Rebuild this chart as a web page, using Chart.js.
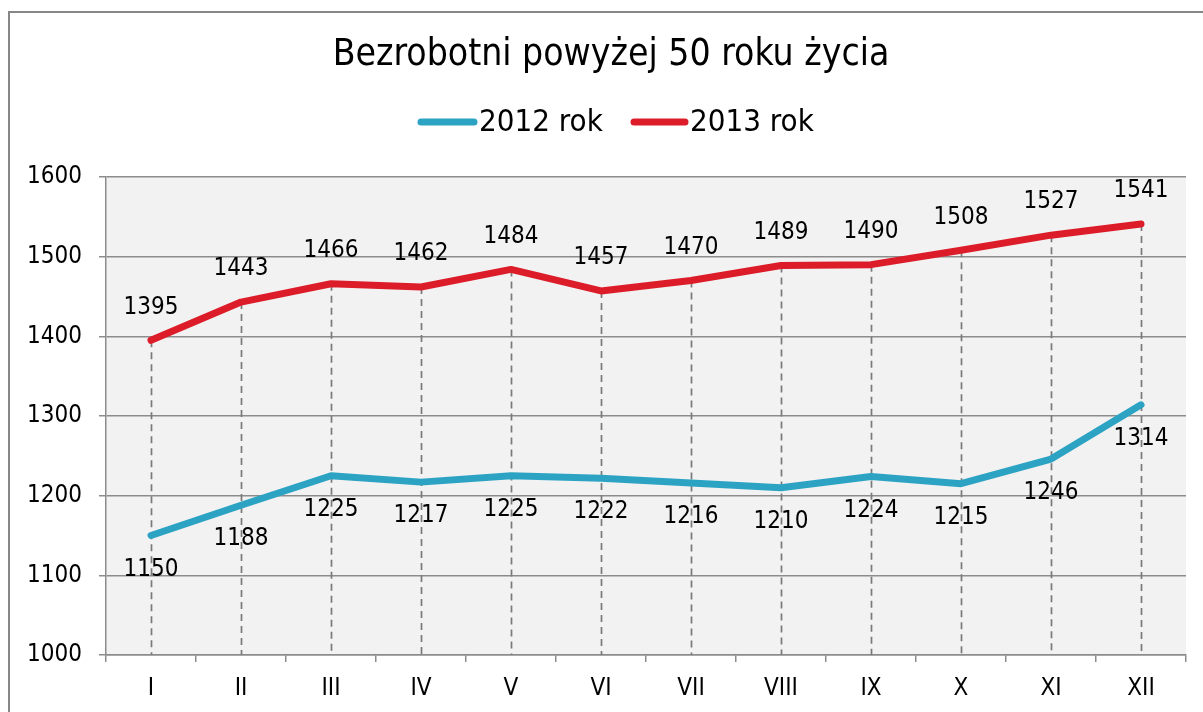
<!DOCTYPE html>
<html>
<head>
<meta charset="utf-8">
<script src="https://cdn.jsdelivr.net/npm/chart.js@4.4.1/dist/chart.umd.min.js"></script>
<style>
  html, body { margin: 0; padding: 0; background: #fff; }
  #wrap { width: 1203px; height: 712px; position: relative; }
</style>
</head>
<body>
<div id="wrap"><canvas id="chart"></canvas></div>
<script>
// dane
const months = ['I', 'II', 'III', 'IV', 'V', 'VI', 'VII', 'VIII', 'IX', 'X', 'XI', 'XII'];
const rok2012 = [1150, 1188, 1225, 1217, 1225, 1222, 1216, 1210, 1224, 1215, 1246, 1314];
const rok2013 = [1395, 1443, 1466, 1462, 1484, 1457, 1470, 1489, 1490, 1508, 1527, 1541];
const yMin = 1000, yMax = 1600, yStep = 100;
const chartTitle = 'Bezrobotni powyżej 50 roku życia';
const seriesNames = ['2012 rok', '2013 rok'];

const FONT = '"DejaVu Sans Condensed", "DejaVu Sans", sans-serif';
const TEAL = '#2DA3C4';
const RED = '#DD1C29';
const GRID = '#8C8C8C';

// tlo, ramka, szare pole wykresu
const backgroundPlugin = {
  id: 'bg',
  beforeDraw(chart) {
    const ctx = chart.ctx, a = chart.chartArea;
    ctx.save();
    ctx.fillStyle = '#fff';
    ctx.fillRect(0, 0, chart.width, chart.height);
    ctx.strokeStyle = '#878787';
    ctx.lineWidth = 2;
    ctx.strokeRect(9, 12, chart.width + 20, chart.height + 20);
    ctx.fillStyle = '#F2F2F2';
    ctx.fillRect(a.left, a.top, a.right - a.left, a.bottom - a.top);
    ctx.restore();
  }
};

// linie spadku od wyzszej serii do osi
const dropLinesPlugin = {
  id: 'dropLines',
  beforeDatasetsDraw(chart) {
    const ctx = chart.ctx, x = chart.scales.x, y = chart.scales.y;
    ctx.save();
    ctx.strokeStyle = '#7A7A7A';
    ctx.lineWidth = 1.7;
    ctx.setLineDash([7, 5]);
    months.forEach((m, i) => {
      const top = Math.max(rok2012[i], rok2013[i]);
      const px = Math.round(x.getPixelForValue(i)) + 0.5;
      ctx.beginPath();
      ctx.moveTo(px, y.getPixelForValue(top));
      ctx.lineTo(px, chart.chartArea.bottom);
      ctx.stroke();
    });
    ctx.restore();
  }
};

// etykiety danych
const valueLabelsPlugin = {
  id: 'valueLabels',
  afterDatasetsDraw(chart) {
    const ctx = chart.ctx, x = chart.scales.x, y = chart.scales.y;
    ctx.save();
    ctx.font = '24px ' + FONT;
    ctx.fillStyle = '#000';
    ctx.textAlign = 'center';
    ctx.textBaseline = 'middle';
    months.forEach((m, i) => {
      const px = x.getPixelForValue(i);
      ctx.fillText(String(rok2013[i]), px, y.getPixelForValue(rok2013[i]) - 33);
      ctx.fillText(String(rok2012[i]), px, y.getPixelForValue(rok2012[i]) + 34);
    });
    ctx.restore();
  }
};

// tytul i legenda
const headerPlugin = {
  id: 'header',
  afterDraw(chart) {
    const ctx = chart.ctx;
    ctx.save();
    ctx.fillStyle = '#000';
    ctx.textBaseline = 'middle';
    ctx.textAlign = 'center';
    ctx.font = '37px ' + FONT;
    ctx.fillText(chartTitle, 611, 55);

    ctx.font = '31px ' + FONT;
    ctx.textAlign = 'left';
    ctx.lineCap = 'round';
    ctx.lineWidth = 7;
    [[TEAL, 421, 474, 479], [RED, 634, 685, 690]].forEach((l, k) => {
      ctx.strokeStyle = l[0];
      ctx.beginPath();
      ctx.moveTo(l[1], 122);
      ctx.lineTo(l[2], 122);
      ctx.stroke();
      ctx.fillText(seriesNames[k], l[3], 123);
    });
    ctx.restore();
  }
};

new Chart(document.getElementById('chart'), {
  type: 'line',
  data: {
    labels: months,
    datasets: [
      { label: seriesNames[0], data: rok2012, borderColor: TEAL, backgroundColor: TEAL },
      { label: seriesNames[1], data: rok2013, borderColor: RED, backgroundColor: RED }
    ]
  },
  options: {
    responsive: true,
    maintainAspectRatio: false,
    animation: false,
    events: [],
    layout: { padding: { top: 177, left: 0, right: 17, bottom: 0 } },
    elements: {
      line: { borderWidth: 7, tension: 0, borderCapStyle: 'round', borderJoinStyle: 'round' },
      point: { radius: 0 }
    },
    plugins: {
      legend: { display: false },
      title: { display: false },
      tooltip: { enabled: false }
    },
    scales: {
      x: {
        offset: true,
        afterFit(s) { s.height = 57; },
        grid: { offset: true, drawOnChartArea: false, tickLength: 7, color: GRID, lineWidth: 1.5 },
        border: { color: GRID, width: 1.5 },
        ticks: { color: '#000', font: { family: FONT, size: 24 }, padding: 12, maxRotation: 0 }
      },
      y: {
        min: yMin,
        max: yMax,
        afterFit(s) { s.width = 106; },
        grid: { color: GRID, lineWidth: 1.5, tickLength: 7 },
        border: { color: GRID, width: 1.5 },
        ticks: {
          stepSize: yStep, color: '#000', font: { family: FONT, size: 24 }, padding: 17,
          callback: v => String(v)
        }
      }
    }
  },
  plugins: [backgroundPlugin, dropLinesPlugin, valueLabelsPlugin, headerPlugin]
});
</script>
</body>
</html>
